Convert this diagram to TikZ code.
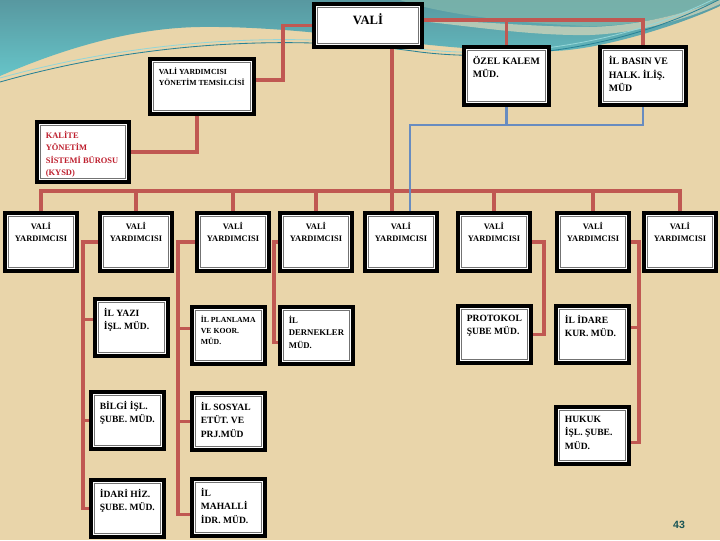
\documentclass[tikz,border=0pt]{standalone}
\usepackage{fontspec}
\setmainfont{Liberation Serif}
\setsansfont{Liberation Sans}
\usetikzlibrary{positioning,backgrounds,calc}

\definecolor{sand}{RGB}{233,213,170}
\definecolor{seatop}{RGB}{88,152,160}
\definecolor{seabot}{RGB}{102,196,200}
\definecolor{seagrey}{RGB}{126,182,172}
\definecolor{seapale}{RGB}{218,216,186}
\definecolor{sealine}{RGB}{40,130,150}
\definecolor{linkred}{RGB}{192,88,82}
\definecolor{linkblue}{RGB}{104,140,192}
\definecolor{kysdred}{RGB}{190,30,45}
\definecolor{pagenum}{RGB}{25,85,85}

\begin{document}
\begin{tikzpicture}[
    x=0.025cm, y=-0.025cm,
    orgbox/.style={
        draw=black,
        line width=2.8pt,
        fill=white,
        anchor=north west,
        inner sep=0pt,
        path picture={
            \draw[black!55, line width=0.6pt]
            ([shift={(2.6pt,-2.6pt)}]path picture bounding box.north west) rectangle
            ([shift={(-2.6pt,2.6pt)}]path picture bounding box.south east);
        }
    },
    vybox/.style={
        orgbox,
        minimum width=1.8cm,
        minimum height=1.45cm
    },
    subbox/.style={
        orgbox,
        minimum width=1.825cm,
        minimum height=1.425cm
    },
    txt/.style={
        anchor=north west,
        inner sep=0pt,
        align=left,
        execute at begin node={\strut},
        xshift=7.5pt,
        yshift=-7.5pt
    },
    ctxt/.style={
        anchor=north,
        inner sep=0pt,
        align=center,
        execute at begin node={\strut},
        yshift=-7.6pt
    },
    vytxt/.style={ctxt, font=\fontsize{6}{9}\selectfont\bfseries},
    subtxt/.style={txt, font=\fontsize{6.8}{9.6}\selectfont\bfseries},
    redlink/.style={draw=linkred, line width=2.4pt},
    bluelink/.style={draw=linkblue, line width=1.8pt}
]

\useasboundingbox (0,0) rectangle (720,540);

% sea and sand
\begin{scope}[on background layer]
\fill[sand] (0,0) rectangle (720,540);
\shade[top color=seatop, bottom color=seabot]
    (0,0) -- (0,76) .. controls (60,50) and (130,28) .. (200,27)
    .. controls (280,26) and (360,38) .. (430,45)
    .. controls (480,50) and (520,52) .. (553,51)
    .. controls (600,50) and (680,25) .. (720,6) -- (720,0) -- cycle;
\fill[seagrey, opacity=0.8]
    (400,0) .. controls (440,14) and (520,24) .. (590,26)
    .. controls (640,26) and (690,12) .. (720,0) -- cycle;
\fill[seapale, opacity=0.7]
    (410,20) .. controls (470,26) and (530,36) .. (590,35)
    .. controls (640,33) and (690,18) .. (720,4) -- (720,0)
    .. controls (690,12) and (640,26) .. (590,27)
    .. controls (530,27) and (470,20) .. (410,20) -- cycle;
\draw[sealine, line width=0.6pt]
    (0,82) .. controls (130,45) and (280,32) .. (420,52)
    .. controls (500,62) and (620,52) .. (722,-2);
\draw[seabot!70!white, line width=0.6pt]
    (0,78) .. controls (130,42) and (280,29) .. (420,49)
    .. controls (500,59) and (620,48) .. (722,-5);
\end{scope}

% top level
\node[orgbox, minimum width=2.7cm, minimum height=1.075cm,
    label={[ctxt, yshift=-0.2pt, font=\fontsize{9}{11}\selectfont\bfseries]north:VALİ}] (vali) at (312,2) {};

\node[orgbox, minimum width=2.6cm, minimum height=1.375cm,
    label={[txt, font=\fontsize{5.5}{7.8}\selectfont\bfseries]north west:{VALİ YARDIMCISI\\YÖNETİM TEMSİLCİSİ}}] (vyyt) at (148,57) {};

\node[orgbox, minimum width=2.3cm, minimum height=1.5cm,
    label={[txt, text=kysdred, font=\fontsize{6}{8.9}\selectfont\bfseries]north west:{KALİTE\\YÖNETİM\\SİSTEMİ BÜROSU\\(KYSD)}}] (kalite) at (35,120) {};

\node[orgbox, minimum width=2.125cm, minimum height=1.45cm,
    label={[txt, font=\fontsize{7}{9.8}\selectfont\bfseries]north west:{ÖZEL KALEM\\MÜD.}}] (ozel) at (462,45) {};

\node[orgbox, minimum width=2.15cm, minimum height=1.45cm,
    label={[txt, font=\fontsize{7}{9.8}\selectfont\bfseries]north west:{İL BASIN VE\\HALK. İLİŞ.\\MÜD}}] (basin) at (598,45) {};

% vali yardimcilari
\node[vybox, label={[vytxt]north:{VALİ\\YARDIMCISI}}] (vy1) at (3,211) {};
\node[vybox, label={[vytxt]north:{VALİ\\YARDIMCISI}}] (vy2) at (98,211) {};
\node[vybox, label={[vytxt]north:{VALİ\\YARDIMCISI}}] (vy3) at (195,211) {};
\node[vybox, label={[vytxt]north:{VALİ\\YARDIMCISI}}] (vy4) at (278,211) {};
\node[vybox, label={[vytxt]north:{VALİ\\YARDIMCISI}}] (vy5) at (363,211) {};
\node[vybox, label={[vytxt]north:{VALİ\\YARDIMCISI}}] (vy6) at (456,211) {};
\node[vybox, label={[vytxt]north:{VALİ\\YARDIMCISI}}] (vy7) at (555,211) {};
\node[vybox, label={[vytxt]north:{VALİ\\YARDIMCISI}}] (vy8) at (642,211) {};

% mudurlukler
\node[subbox, label={[subtxt]north west:{İL YAZI\\İŞL. MÜD.}}] (yazi) at (93,297) {};
\node[subbox, label={[subtxt]north west:{BİLGİ İŞL.\\ŞUBE. MÜD.}}] (bilgi) at (89,390) {};
\node[subbox, label={[subtxt]north west:{İDARİ HİZ.\\ŞUBE. MÜD.}}] (idari) at (89,478) {};
\node[subbox, label={[subtxt, font=\fontsize{5.5}{7.8}\selectfont\bfseries]north west:{İL PLANLAMA\\VE KOOR.\\MÜD.}}] (planlama) at (190,305) {};
\node[subbox, label={[subtxt]north west:{İL SOSYAL\\ETÜT. VE\\PRJ.MÜD}}] (sosyal) at (190,391) {};
\node[subbox, label={[subtxt]north west:{İL\\MAHALLİ\\İDR. MÜD.}}] (mahalli) at (190,477) {};
\node[subbox, label={[subtxt, font=\fontsize{6.2}{8.9}\selectfont\bfseries]north west:{İL\\DERNEKLER\\MÜD.}}] (dernekler) at (278,305) {};
\node[subbox, label={[subtxt]north west:{PROTOKOL\\ŞUBE MÜD.}}] (protokol) at (456,304) {};
\node[subbox, label={[subtxt]north west:{İL İDARE\\KUR. MÜD.}}] (idare) at (554,304) {};
\node[subbox, label={[subtxt]north west:{HUKUK\\İŞL. ŞUBE.\\MÜD.}}] (hukuk) at (554,405) {};

\node[font=\sffamily\bfseries\fontsize{7.5}{9}\selectfont, text=pagenum] (page) at (679,525) {43};

% links
\begin{scope}[on background layer]
\coordinate (vr) at ([yshift=4pt]vali.east);
\draw[redlink] (vr) -| (basin.north);
\draw[redlink] (ozel.north) -- (ozel.north |- vr);
\draw[redlink] (vali.west) -- ++(-29,0) |- ([yshift=4.5pt]vyyt.east);
\draw[redlink] ([xshift=-3.5pt]vyyt.south) |- (kalite.east);

\coordinate (vd) at ([xshift=-6.4pt]vy5.north);
\draw[redlink] (vd) -- (vd |- vali.south);
\draw[redlink] (vy1.north) -- ++(0,-20) -| (vy8.north);
\draw[redlink] (vy2.north) -- ++(0,-20);
\draw[redlink] (vy3.north) -- ++(0,-20);
\draw[redlink] (vy4.north) -- ++(0,-20);
\draw[redlink] (vy6.north) -- ++(0,-20);
\draw[redlink] (vy7.north) -- ++(0,-20);

\coordinate (bd) at ([xshift=6.4pt]vy5.north);
\draw[bluelink] (basin.south) -- ++(0,18) -| (bd);
\draw[bluelink] (ozel.south) -- ++(0,18);

\draw[redlink] (vy2.west) -- ++(-15,0) coordinate (sp2) |- (idari.west);
\draw[redlink] (bilgi.west) -| (sp2);
\draw[redlink] ([yshift=5.5pt]yazi.west) -| (sp2);

\draw[redlink] (vy3.west) -- ++(-17,0) coordinate (sp3) |- ([yshift=-5pt]mahalli.west);
\draw[redlink] (sosyal.west) -| (sp3);
\draw[redlink] ([yshift=5pt]planlama.west) -| (sp3);

\draw[redlink] (vy4.west) -- ++(-4,0) |- ([yshift=-5pt]dernekler.west);
\draw[redlink] (vy6.east) -- ++(12,0) |- (protokol.east);

\draw[redlink] (vy7.east) -- ++(8,0) coordinate (sp7) |- ([yshift=-5pt]hukuk.east);
\draw[redlink] ([yshift=5pt]idare.east) -| (sp7);
\end{scope}

\end{tikzpicture}
\end{document}
